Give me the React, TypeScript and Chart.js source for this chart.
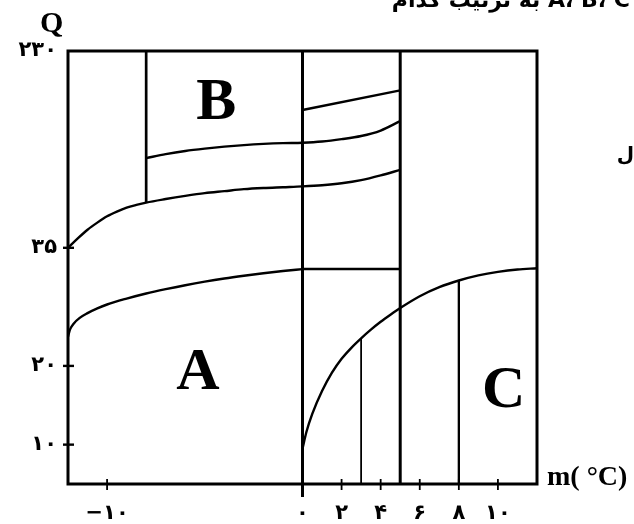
import React, { useEffect, useRef } from 'react';
import { Chart, registerables } from 'chart.js';

Chart.register(...registerables);

// ---- axis ranges and ticks ----
const X_MIN = -12;
const X_MAX = 12;
const Y_MIN = 5;
const Y_MAX = 60;
const xTickValues = [-10, 0, 2, 4, 6, 8, 10];
const xTickLabels = ['−۱۰', '۰', '۲', '۴', '۶', '۸', '۱۰'];
const yTickValues = [10, 20, 35, 60];
const yTickLabels = ['۱۰', '۲۰', '۳۵', '۲۳۰'];
const yTickMarks = [10, 20, 35];
const xTickMarks = [-10, 2, 4, 6, 8, 10];
const xLongTickMarks = [0];

// ---- curves ----
const lowerCurveX = [-12, -11.9, -11.7, -11.4, -11, -10.5, -10, -9, -8, -7, -6, -5, -4, -3, -2, -1, 0];
const lowerCurveY = [23.7, 24.6, 25.4, 26.1, 26.7, 27.3, 27.8, 28.55, 29.2, 29.75, 30.25, 30.7, 31.1, 31.45, 31.77, 32.05, 32.3];

const lowerFlatX = [0, 5];
const lowerFlatY = [32.3, 32.3];

const middleCurveX = [-12, -11.5, -11, -10.5, -10, -9.5, -9, -8.5, -8, -7, -6, -5, -4, -3, -2, -1, 0, 1, 2, 3, 4, 5];
const middleCurveY = [35.0, 36.2, 37.3, 38.2, 39.0, 39.6, 40.1, 40.45, 40.75, 41.2, 41.6, 41.95, 42.2, 42.45, 42.6, 42.7, 42.8, 42.95, 43.2, 43.6, 44.2, 44.9];

const upperCurveX = [-8, -7, -6, -5, -4, -3, -2, -1, 0, 1, 2, 3, 4, 5];
const upperCurveY = [46.4, 46.9, 47.3, 47.6, 47.85, 48.05, 48.2, 48.3, 48.35, 48.5, 48.8, 49.2, 49.9, 51.1];

const topLineX = [0, 5];
const topLineY = [52.5, 55.0];

const cCurveX = [0, 0.2, 0.5, 1.0, 1.5, 2.0, 2.5, 3.0, 3.5, 4.0, 4.5, 5.0, 6.0, 7.0, 8.0, 9.0, 10.0, 11.0, 12.0];
const cCurveY = [9.5, 11.6, 13.9, 16.8, 19.1, 20.9, 22.3, 23.5, 24.6, 25.6, 26.5, 27.35, 28.85, 30.0, 30.85, 31.5, 31.95, 32.25, 32.4];

// ---- vertical boundary lines: x, from y, to y ----
const vLineX = [-8, 0, 5, 3, 8];
const vLineFrom = [40.75, 5, 5, 5, 5];
const vLineTo = [60, 60, 60, 23.5, 30.85];
const vLineWidths = [2.7, 3, 3, 1.8, 2.3];

// ---- region labels ----
const regionNames = ['A', 'B', 'C'];
const regionX = [-5.35, -4.41, 10.3];
const regionY = [17.1, 51.3, 14.8];

const zip = (xs: number[], ys: number[]) => xs.map((x, i) => ({ x, y: ys[i] }));

const curveDataset = (xs: number[], ys: number[], width = 2.4) => ({
  data: zip(xs, ys),
  borderColor: '#000',
  borderWidth: width,
  pointRadius: 0,
  fill: false,
  cubicInterpolationMode: 'monotone' as const,
});

const straightDataset = (pts: { x: number; y: number }[], width: number) => ({
  data: pts,
  borderColor: '#000',
  borderWidth: width,
  pointRadius: 0,
  fill: false,
  tension: 0,
});

const framePlugin = {
  id: 'frameAndMarks',
  afterDatasetsDraw(chart: any) {
    const { ctx, chartArea, scales } = chart;
    const xs = scales.x;
    const ys = scales.y;
    ctx.save();
    ctx.strokeStyle = '#000';
    ctx.lineWidth = 3;
    ctx.strokeRect(chartArea.left, chartArea.top, chartArea.right - chartArea.left, chartArea.bottom - chartArea.top);

    ctx.lineWidth = 2.4;
    yTickMarks.forEach((v) => {
      const py = ys.getPixelForValue(v);
      ctx.beginPath();
      ctx.moveTo(chartArea.left - 5, py);
      ctx.lineTo(chartArea.left + 6, py);
      ctx.stroke();
    });
    ctx.lineWidth = 1.8;
    xTickMarks.forEach((v) => {
      const px = xs.getPixelForValue(v);
      ctx.beginPath();
      ctx.moveTo(px, chartArea.bottom - 5);
      ctx.lineTo(px, chartArea.bottom + 6);
      ctx.stroke();
    });
    ctx.lineWidth = 3;
    xLongTickMarks.forEach((v) => {
      const px = xs.getPixelForValue(v);
      ctx.beginPath();
      ctx.moveTo(px, chartArea.bottom - 5);
      ctx.lineTo(px, chartArea.bottom + 13);
      ctx.stroke();
    });
    ctx.restore();
  },
  afterDraw(chart: any) {
    const { ctx, chartArea, scales } = chart;
    ctx.save();
    ctx.fillStyle = '#000';
    ctx.textBaseline = 'alphabetic';
    ctx.font = 'bold 60px "Liberation Serif"';
    ctx.textAlign = 'center';
    regionNames.forEach((n, i) => {
      ctx.fillText(n, scales.x.getPixelForValue(regionX[i]), scales.y.getPixelForValue(regionY[i]));
    });
    ctx.textAlign = 'left';
    ctx.font = 'bold 30px "Liberation Serif"';
    ctx.fillText('Q', chartArea.left - 28, chartArea.top - 19);
    ctx.font = 'bold 28px "Liberation Serif"';
    ctx.fillText('m( °C)', chartArea.right + 10, chartArea.bottom + 1);
    ctx.font = 'bold 22px "DejaVu Sans"';
    ctx.textAlign = 'right';
    ctx.direction = 'rtl';
    ctx.fillText('A، B، C به ترتیب کدام', 630, 7);
    ctx.font = 'bold 20px "DejaVu Sans"';
    ctx.fillText('ل', 634, 161);
    ctx.restore();
  },
};

export default function App() {
  const canvasRef = useRef<HTMLCanvasElement | null>(null);

  useEffect(() => {
    if (!canvasRef.current) return;
    const verticals = vLineX.map((x, i) =>
      straightDataset(
        [
          { x, y: vLineFrom[i] },
          { x, y: vLineTo[i] },
        ],
        vLineWidths[i]
      )
    );
    const tickFont = { family: 'DejaVu Sans', weight: 'bold' as const, size: 21 };
    const chart = new Chart(canvasRef.current, {
      type: 'line',
      data: {
        datasets: [
          curveDataset(lowerCurveX, lowerCurveY),
          straightDataset(zip(lowerFlatX, lowerFlatY), 2.4),
          curveDataset(middleCurveX, middleCurveY),
          curveDataset(upperCurveX, upperCurveY),
          straightDataset(zip(topLineX, topLineY), 2.4),
          curveDataset(cCurveX, cCurveY),
          ...verticals,
        ] as any,
      },
      options: {
        responsive: false,
        animation: false,
        layout: { padding: { top: 51, right: 97, bottom: 0, left: 0 } },
        plugins: {
          legend: { display: false },
          tooltip: { enabled: false },
        },
        scales: {
          x: {
            type: 'linear',
            min: X_MIN,
            max: X_MAX,
            afterBuildTicks: (s: any) => {
              s.ticks = xTickValues.map((v) => ({ value: v }));
            },
            afterFit: (s: any) => {
              s.height = 40;
            },
            grid: { display: false, drawTicks: false },
            border: { display: false },
            ticks: {
              autoSkip: false,
              maxRotation: 0,
              padding: 17,
              color: '#000',
              font: tickFont,
              callback: (v: any) => {
                const i = xTickValues.indexOf(Number(v));
                return i >= 0 ? xTickLabels[i] : '';
              },
            },
          },
          y: {
            type: 'linear',
            min: Y_MIN,
            max: Y_MAX,
            afterBuildTicks: (s: any) => {
              s.ticks = yTickValues.map((v) => ({ value: v }));
            },
            afterFit: (s: any) => {
              s.width = 68;
            },
            grid: { display: false, drawTicks: false },
            border: { display: false },
            ticks: {
              autoSkip: false,
              padding: 11,
              color: '#000',
              font: tickFont,
              callback: (v: any) => {
                const i = yTickValues.indexOf(Number(v));
                return i >= 0 ? yTickLabels[i] : '';
              },
            },
          },
        },
      },
      plugins: [framePlugin],
    });
    return () => chart.destroy();
  }, []);

  return (
    <div style={{ position: 'absolute', left: 0, top: 0, width: 634, height: 524, background: '#fff' }}>
      <canvas ref={canvasRef} width={634} height={524} />
    </div>
  );
}
